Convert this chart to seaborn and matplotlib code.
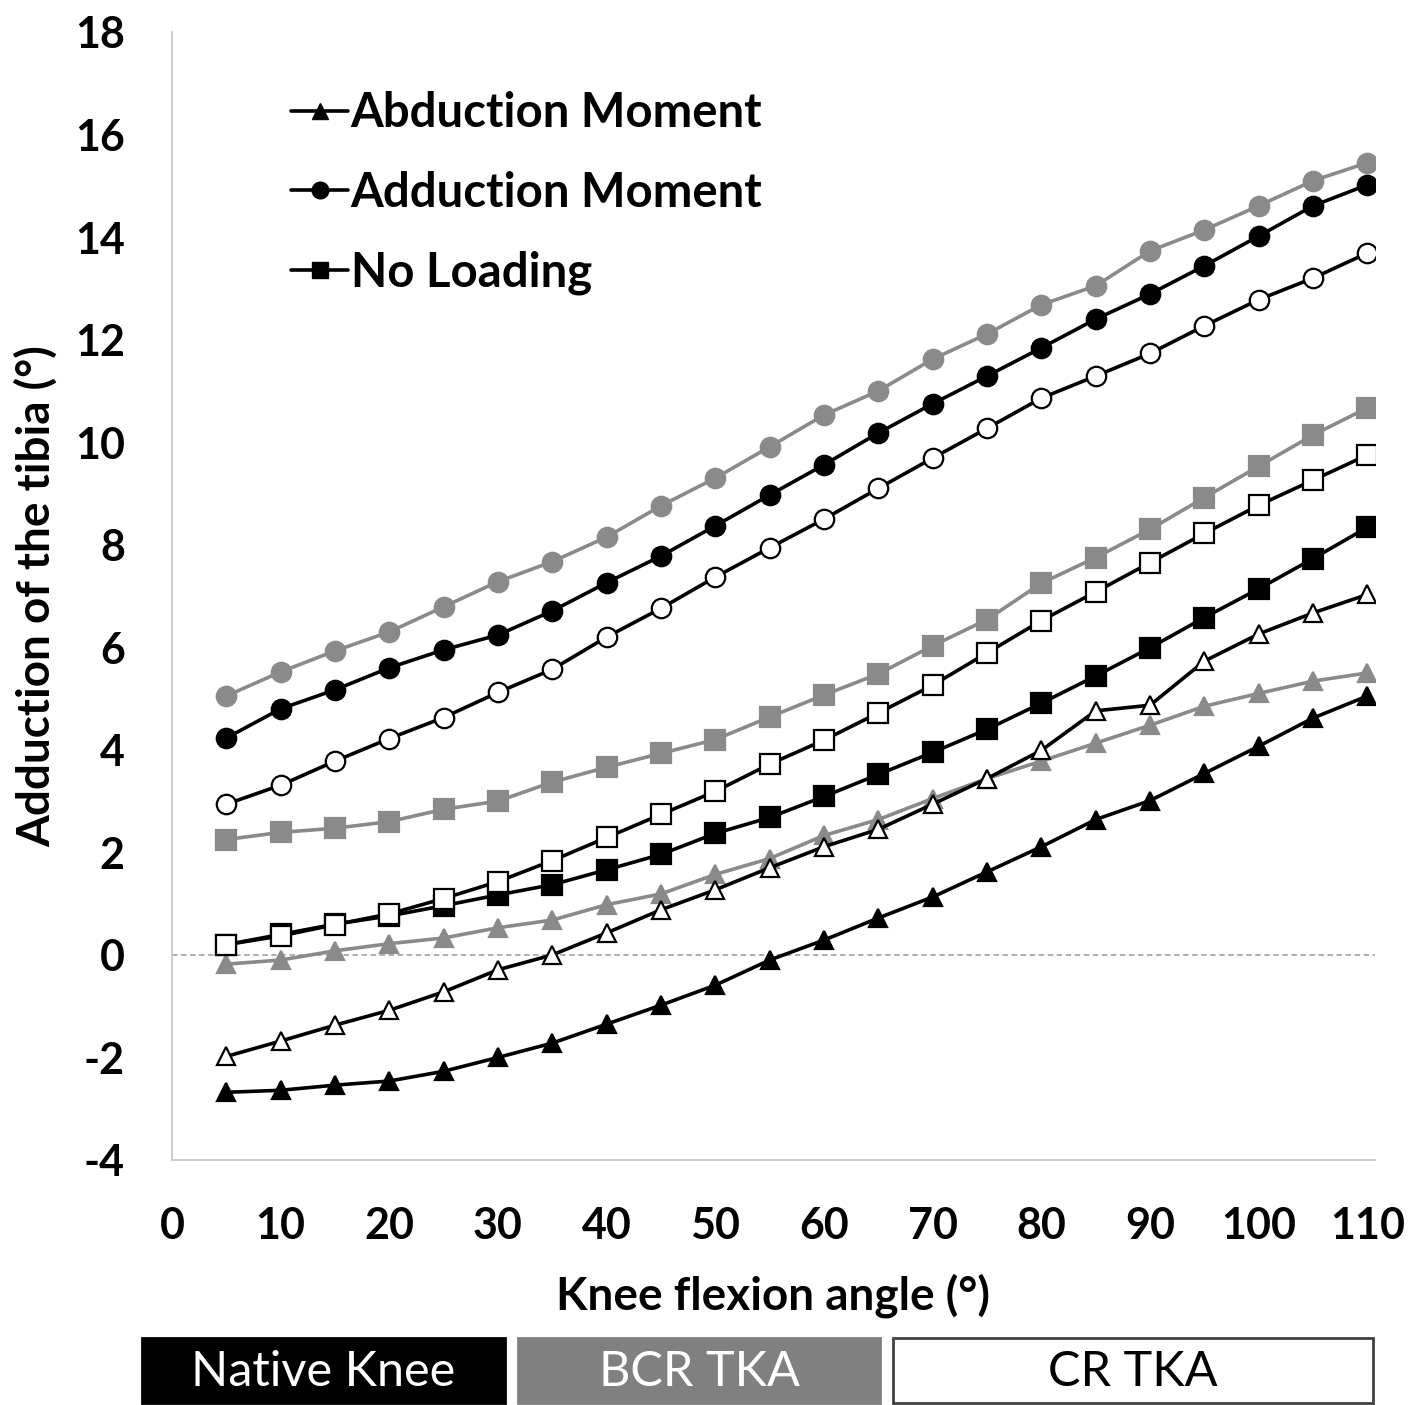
import numpy as np
import pandas as pd
import seaborn as sns
import matplotlib
matplotlib.use("Agg")
import matplotlib.pyplot as plt
from matplotlib.lines import Line2D
from matplotlib.patches import Rectangle
from matplotlib import font_manager

# ---------------- data ----------------
flexion = [5, 10, 15, 20, 25, 30, 35, 40, 45, 50, 55, 60, 65, 70, 75, 80, 85, 90, 95, 100, 105, 110]

native_adduction = [4.23, 4.80, 5.17, 5.60, 5.95, 6.24, 6.71, 7.26, 7.78, 8.37, 8.97, 9.56,
                    10.18, 10.75, 11.29, 11.84, 12.40, 12.89, 13.44, 14.02, 14.61, 15.02]
bcr_adduction = [5.05, 5.52, 5.93, 6.30, 6.79, 7.28, 7.67, 8.15, 8.76, 9.30, 9.91, 10.53,
                 11.00, 11.62, 12.11, 12.68, 13.05, 13.73, 14.14, 14.61, 15.10, 15.45]
cr_adduction = [2.94, 3.31, 3.78, 4.22, 4.63, 5.12, 5.57, 6.20, 6.76, 7.37, 7.94, 8.50,
                9.10, 9.69, 10.27, 10.86, 11.29, 11.73, 12.27, 12.78, 13.20, 13.69]

native_noload = [0.20, 0.40, 0.60, 0.76, 0.96, 1.17, 1.37, 1.66, 1.96, 2.37, 2.68, 3.09,
                 3.52, 3.95, 4.40, 4.91, 5.44, 5.99, 6.58, 7.14, 7.73, 8.34]
bcr_noload = [2.25, 2.39, 2.47, 2.60, 2.84, 3.00, 3.37, 3.66, 3.93, 4.20, 4.64, 5.07,
              5.48, 6.03, 6.54, 7.25, 7.75, 8.30, 8.92, 9.53, 10.14, 10.67]
cr_noload = [0.20, 0.37, 0.59, 0.80, 1.10, 1.43, 1.84, 2.29, 2.74, 3.19, 3.72, 4.19,
             4.72, 5.26, 5.89, 6.52, 7.08, 7.65, 8.22, 8.77, 9.26, 9.75]

native_abduction = [-2.68, -2.64, -2.54, -2.46, -2.27, -2.00, -1.72, -1.35, -0.98, -0.59, -0.10, 0.29,
                    0.72, 1.13, 1.62, 2.11, 2.64, 3.01, 3.54, 4.07, 4.62, 5.05]
bcr_abduction = [-0.18, -0.10, 0.08, 0.22, 0.33, 0.53, 0.68, 0.98, 1.19, 1.57, 1.88, 2.33,
                 2.64, 3.05, 3.44, 3.78, 4.13, 4.48, 4.85, 5.10, 5.34, 5.50]
cr_abduction = [-1.98, -1.68, -1.37, -1.08, -0.72, -0.29, 0.00, 0.43, 0.88, 1.27, 1.70, 2.11,
                2.45, 2.94, 3.44, 3.99, 4.76, 4.87, 5.73, 6.26, 6.67, 7.03]

legend_labels = ["Abduction Moment", "Adduction Moment", "No Loading"]
key_labels = ["Native Knee", "BCR TKA", "CR TKA"]
x_ticks = list(range(0, 111, 10))
y_ticks = list(range(-4, 19, 2))

# ---------------- style ----------------
sns.set_theme(style="white")
avail = {f.name for f in font_manager.fontManager.ttflist}
main_font = "Lato" if "Lato" in avail else "DejaVu Sans"
plt.rcParams["font.family"] = [main_font, "DejaVu Sans"]
plt.rcParams["axes.unicode_minus"] = False
plt.rcParams["text.color"] = "black"
plt.rcParams["axes.labelcolor"] = "black"
plt.rcParams["xtick.color"] = "black"
plt.rcParams["ytick.color"] = "black"

GRAY = "#8a8a8a"
BLACK = "#000000"

fig = plt.figure(figsize=(14.15, 14.05), dpi=100)
ax = fig.add_axes([172 / 1415, 245 / 1405, 1203 / 1415, 1128 / 1405])

ax.axhline(0, color="#a8a8a8", lw=1.3, ls=(0, (3, 2)), zorder=1)

series = [
    # (values, line color, marker, face, edge, zorder)
    (bcr_adduction, GRAY, "o", GRAY, GRAY, 2),
    (bcr_noload, GRAY, "s", GRAY, GRAY, 2),
    (bcr_abduction, GRAY, "^", GRAY, GRAY, 2),
    (native_adduction, BLACK, "o", BLACK, BLACK, 3),
    (native_noload, BLACK, "s", BLACK, BLACK, 3),
    (native_abduction, BLACK, "^", BLACK, BLACK, 3),
    (cr_adduction, BLACK, "o", "white", BLACK, 4),
    (cr_noload, BLACK, "s", "white", BLACK, 4),
    (cr_abduction, BLACK, "^", "white", BLACK, 4),
]
msize = {"o": 14, "s": 14, "^": 12.5}
for vals, col, mk, fc, ec, z in series:
    df = pd.DataFrame({"x": flexion, "y": vals})
    sns.lineplot(data=df, x="x", y="y", ax=ax, color=col, lw=2.6, marker=mk,
                 markersize=msize[mk], markerfacecolor=fc, markeredgecolor=ec,
                 markeredgewidth=1.6, zorder=z, legend=False)

ax.set_xlim(0, 110.7)
ax.set_ylim(-4, 18)
ax.set_xticks(x_ticks)
ax.set_yticks(y_ticks)
for s in ["top", "right"]:
    ax.spines[s].set_visible(False)
for s in ["left", "bottom"]:
    ax.spines[s].set_color("#c8c8c8")
    ax.spines[s].set_linewidth(1.3)
ax.tick_params(axis="both", which="major", direction="out", length=10, width=1.3,
               color="#c8c8c8", labelsize=31, labelcolor="black")
ax.tick_params(axis="y", pad=24)
ax.tick_params(axis="x", pad=23)
for lab in ax.get_xticklabels() + ax.get_yticklabels():
    lab.set_fontweight("bold")
ax.set_xlabel("Knee flexion angle (°)", fontsize=33, fontweight="bold", labelpad=20)
ax.set_ylabel("Adduction of the tibia (°)", fontsize=33, fontweight="bold", labelpad=12)
ax.grid(False)

handles = [Line2D([0], [0], color=BLACK, lw=2.6, marker=m, markersize=12,
                  markerfacecolor=BLACK, markeredgecolor=BLACK) for m in ["^", "o", "s"]]
leg = ax.legend(handles, legend_labels, loc="upper left", bbox_to_anchor=(0.064, 0.985),
                frameon=False, handlelength=1.2, handletextpad=0.05,
                labelspacing=0.75, prop={"weight": "bold", "size": 34})

# key boxes under the chart
W, H = 1415, 1405
boxes = [
    (142, 505, BLACK, "white", BLACK),
    (518, 880, "#808080", "white", "#808080"),
    (893, 1373, "white", BLACK, "#404040"),
]
for (x0, x1, fc, tc, ec), lab in zip(boxes, key_labels):
    r = Rectangle((x0 / W, 2 / H), (x1 - x0) / W, 65 / H, transform=fig.transFigure,
                  facecolor=fc, edgecolor=ec, lw=2)
    fig.patches.append(r)
    fig.text((x0 + x1) / 2 / W, 33 / H, lab, color=tc, fontsize=35,
             ha="center", va="center")

fig.savefig("out.png", dpi=100)
